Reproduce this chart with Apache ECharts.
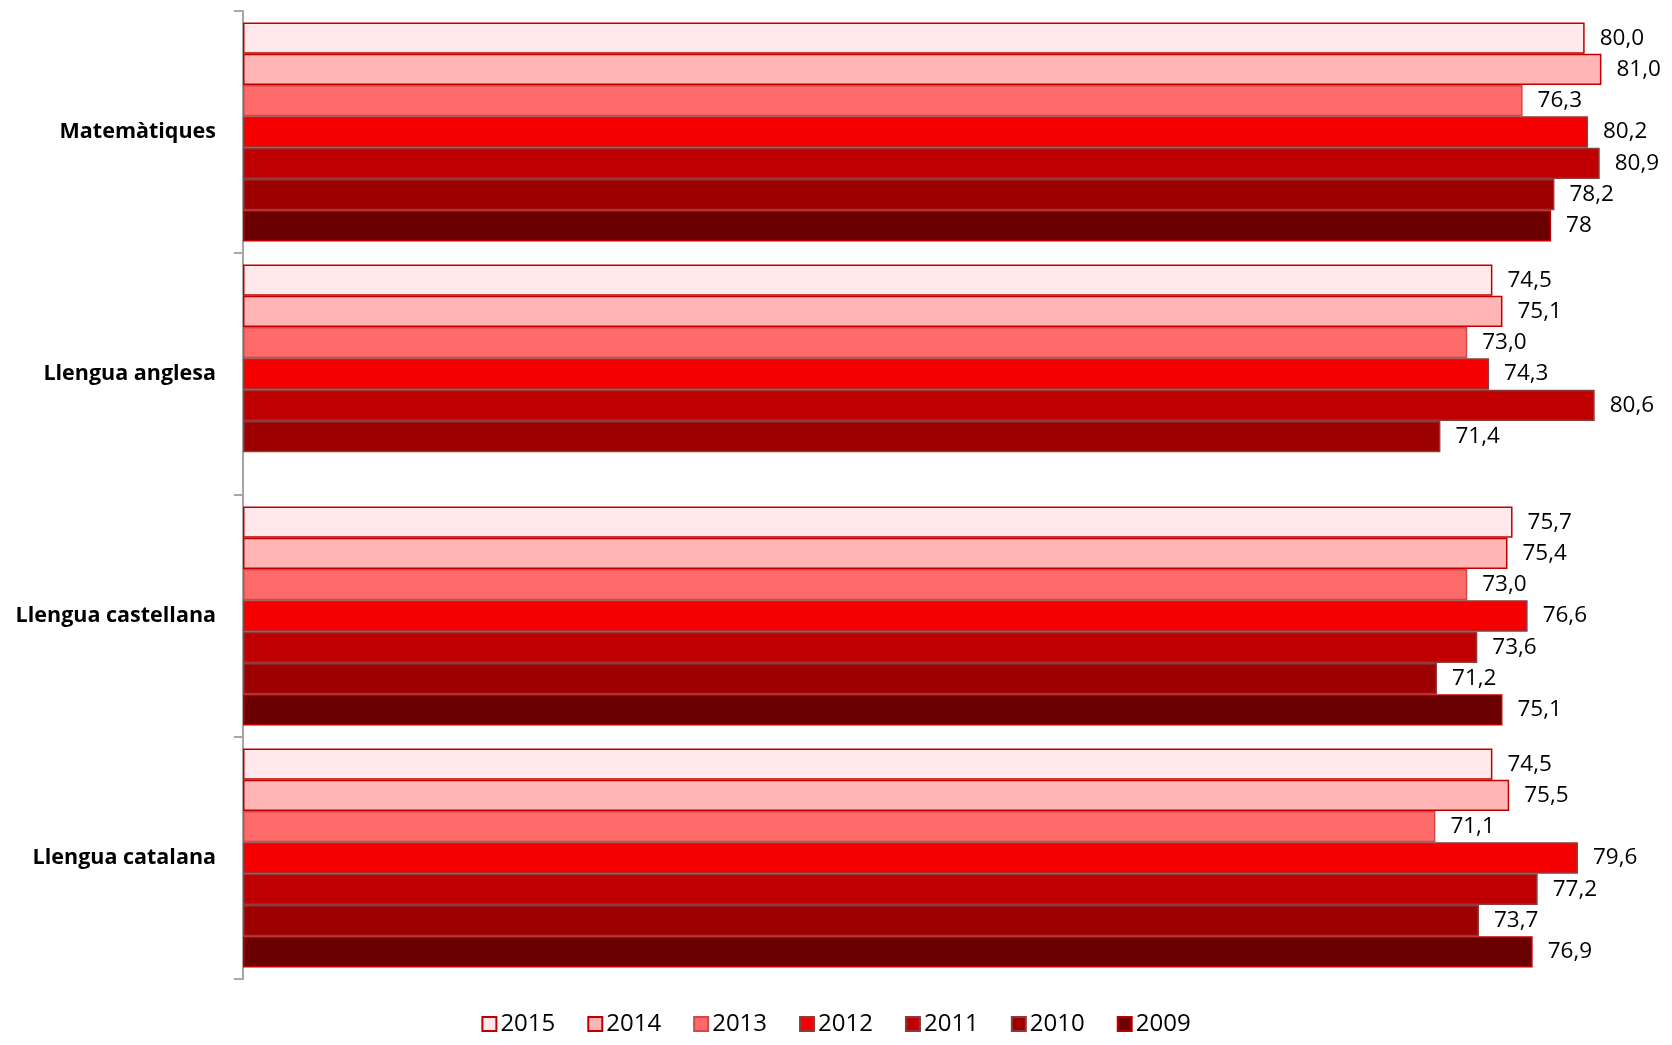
<!DOCTYPE html>
<html>
<head>
<meta charset="utf-8">
<script src="https://cdn.jsdelivr.net/npm/echarts@6/dist/echarts.min.js"></script>
<style>
  html, body { margin: 0; padding: 0; background: #ffffff; }
  #chart { width: 1672px; height: 1045px; }
</style>
</head>
<body>
<div id="chart"></div>
<script>
const categories = ['Matemàtiques', 'Llengua anglesa', 'Llengua castellana', 'Llengua catalana'];
const years = ['2015', '2014', '2013', '2012', '2011', '2010', '2009'];
const v2015 = [80.0, 74.5, 75.7, 74.5];
const v2014 = [81.0, 75.1, 75.4, 75.5];
const v2013 = [76.3, 73.0, 73.0, 71.1];
const v2012 = [80.2, 74.3, 76.6, 79.6];
const v2011 = [80.9, 80.6, 73.6, 77.2];
const v2010 = [78.2, 71.4, 71.2, 73.7];
const v2009 = [78, null, 75.1, 76.9];

const seriesValues = [v2015, v2014, v2013, v2012, v2011, v2010, v2009];
const fills   = ['#FFE9EA', '#FFB5B5', '#FF6B6B', '#F50000', '#C00000', '#9C0000', '#6B0000'];
const borders = ['#C00000', '#C00000', '#D04848', '#8E3B3B', '#8E3B3B', '#8E3B3B', '#C00000'];

const FONT = '"Open Sans", "Noto Sans", sans-serif';

const chart = echarts.init(document.getElementById('chart'));

const series = years.map((y, i) => ({
  name: y,
  type: 'bar',
  data: seriesValues[i],
  barGap: '0%',
  barCategoryGap: '9.6%',
  itemStyle: { color: fills[i], borderColor: borders[i], borderWidth: 1.5 },
  label: {
    show: true,
    position: 'right',
    distance: 15,
    color: '#000',
    fontFamily: FONT,
    fontSize: 22.5,
    formatter: p => {
      const v = p.value;
      if (v == null) return '';
      if (y === '2009' && Number.isInteger(v)) return String(v);
      return v.toFixed(1).replace('.', ',');
    }
  }
}));

chart.setOption({
  backgroundColor: '#ffffff',
  animation: false,
  grid: { left: 243, right: 3.5, top: 11, bottom: 66, containLabel: false },
  xAxis: {
    type: 'value', min: 0, max: 85, show: false,
    splitLine: { show: false }
  },
  yAxis: {
    type: 'category',
    data: categories,
    inverse: true,
    axisLine: { show: true, lineStyle: { color: '#A6A6A6', width: 2 } },
    axisTick: { show: true, length: 9, lineStyle: { color: '#A6A6A6', width: 2 } },
    axisLabel: { color: '#000', fontFamily: FONT, fontSize: 21.5, fontWeight: 'bold', margin: 27 },
    splitLine: { show: false }
  },
  legend: {
    bottom: 4,
    left: 'center',
    itemWidth: 14,
    itemHeight: 14,
    itemGap: 32,
    icon: 'rect',
    textStyle: { color: '#000', fontFamily: FONT, fontSize: 24, padding: [0, 0, 0, -1] },
    data: years
  },
  series: series
});
</script>
</body>
</html>
